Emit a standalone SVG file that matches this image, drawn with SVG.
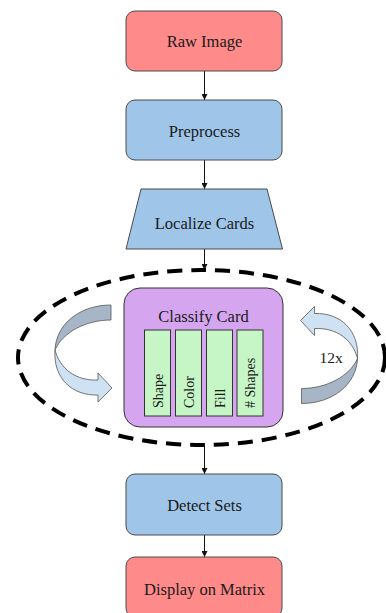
<svg xmlns="http://www.w3.org/2000/svg" width="386" height="613" viewBox="0 0 386 613">
  <style>
    .box { stroke: #4a4a4a; stroke-width: 1; }
    .red { fill: #ff8a8a; }
    .blue { fill: #9fc5e8; }
    .label { font-family: "Liberation Serif", "Times New Roman", serif; font-size: 16.5px; fill: #1a1a1a; text-anchor: middle; }
    .small { font-family: "Liberation Serif", "Times New Roman", serif; font-size: 14px; fill: #1a1a1a; }
    .bar { fill: #c6f5c6; stroke: #333; stroke-width: 1; }
    .conn { stroke: #111; stroke-width: 1; fill: none; marker-end: url(#head); }
  </style>
  <defs>
    <marker id="head" viewBox="0 0 6 6" refX="6" refY="3" markerWidth="6" markerHeight="6" markerUnits="userSpaceOnUse" orient="auto">
      <path d="M0,0 L6,3 L0,6 Z" fill="#111"/>
    </marker>
    <!-- twisted circular arrow: dark back face on top, light front face with head -->
    <g id="loop">
      <path d="M111,305 L111,320 C 86,320 63,332 55,350 C 56,324 80,305 111,305 Z" fill="#a6b6c7" stroke="#555" stroke-width="0.8"/>
      <path d="M55,350 C 53,378 72,396 98,395 L98,402 L112,388 L98,373 L98,380 C 76,381 60,369 55,350 Z" fill="#cfe2f3" stroke="#555" stroke-width="0.8"/>
    </g>
  </defs>

  <rect width="386" height="613" fill="#ffffff"/>

  <g id="connectors">
    <line class="conn" x1="204.5" y1="71" x2="204.5" y2="100"/>
    <line class="conn" x1="204.5" y1="160" x2="204.5" y2="189"/>
    <line class="conn" x1="204.5" y1="249" x2="204.5" y2="270"/>
    <line class="conn" x1="204.5" y1="445" x2="204.5" y2="474"/>
    <line class="conn" x1="204.5" y1="535" x2="204.5" y2="557"/>
  </g>

  <g id="loop-region">
    <ellipse cx="201.5" cy="357.5" rx="183.5" ry="87.5" fill="none" stroke="#000" stroke-width="4" stroke-dasharray="15 9"/>
    <use href="#loop"/>
    <use href="#loop" transform="rotate(180 206.25 354.25)"/>
    <text x="331" y="363" font-family="Liberation Serif, Times New Roman, serif" font-size="15.5" fill="#1a1a1a" text-anchor="middle">12x</text>
  </g>

  <g id="raw-image">
    <rect class="box red" x="126" y="11" width="156" height="60" rx="9"/>
    <text class="label" x="204.5" y="47">Raw Image</text>
  </g>

  <g id="preprocess">
    <rect class="box blue" x="126" y="100" width="156" height="60" rx="9"/>
    <text class="label" x="204.5" y="137">Preprocess</text>
  </g>

  <g id="localize-cards">
    <polygon class="box blue" points="141,189 267,189 282.5,249 126,249"/>
    <text class="label" x="204.5" y="229">Localize Cards</text>
  </g>

  <g id="classify-card">
    <rect x="124" y="288" width="159" height="139" rx="16" fill="#d5a6ef" stroke="#333" stroke-width="1"/>
    <text class="label" x="203.5" y="322">Classify Card</text>
    <rect class="bar" x="144.5" y="330" width="26" height="86"/>
    <rect class="bar" x="175.5" y="330" width="26" height="86"/>
    <rect class="bar" x="206.5" y="330" width="26" height="86"/>
    <rect class="bar" x="237" y="330" width="26" height="86"/>
    <text class="small" transform="translate(162.5 408) rotate(-90)">Shape</text>
    <text class="small" transform="translate(193.5 408) rotate(-90)">Color</text>
    <text class="small" transform="translate(224.5 408) rotate(-90)">Fill</text>
    <text class="small" transform="translate(255 408) rotate(-90)"># Shapes</text>
  </g>

  <g id="detect-sets">
    <rect class="box blue" x="126" y="474" width="156" height="61" rx="9"/>
    <text class="label" x="204.5" y="511">Detect Sets</text>
  </g>

  <g id="display-on-matrix">
    <rect class="box red" x="126" y="557" width="156" height="60" rx="9"/>
    <text class="label" x="204.5" y="595">Display on Matrix</text>
  </g>
</svg>
